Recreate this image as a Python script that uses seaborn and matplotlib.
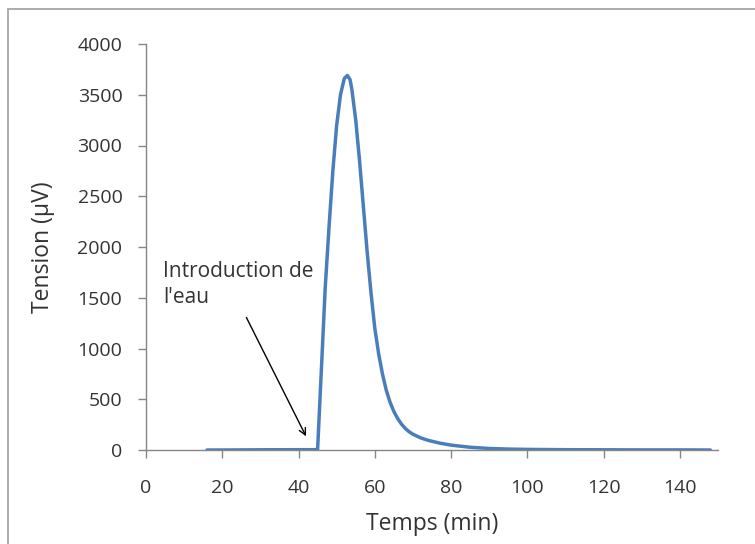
import matplotlib
matplotlib.use("Agg")
import pandas as pd
import seaborn as sns
import matplotlib.pyplot as plt
from matplotlib.patches import Rectangle

# values
temps = [16, 20, 30, 40, 44, 45, 46, 47, 48, 49, 50, 51, 52, 52.8, 53.5, 54,
         55, 56, 57, 58, 59, 60, 61, 62, 63, 64, 65, 66, 67, 68, 69, 70, 72,
         74, 77, 80, 85, 90, 95, 100, 110, 120, 130, 140, 148]
tension = [0, 0, 2, 3, 3, 5, 800, 1600, 2200, 2750, 3200, 3500, 3660, 3690,
           3650, 3550, 3250, 2850, 2400, 1950, 1550, 1200, 950, 750, 590, 470,
           380, 310, 255, 212, 180, 155, 120, 95, 68, 48, 27, 15, 9, 6, 3, 2,
           1, 1, 0]
x_ticks = [0, 20, 40, 60, 80, 100, 120, 140]
y_ticks = [0, 500, 1000, 1500, 2000, 2500, 3000, 3500, 4000]

GREY = "#868686"
BLUE = "#4a7ebb"
TEXT = "#333333"


def main():
    df = pd.DataFrame({"Temps": temps, "Tension": tension})

    sns.set_style("white")
    plt.rcParams["font.family"] = ["Open Sans", "DejaVu Sans"]

    fig = plt.figure(figsize=(7.55, 5.44), dpi=100)
    ax = fig.add_axes([146 / 755, 1 - 450 / 544, 572 / 755, 406 / 544])

    sns.lineplot(data=df, x="Temps", y="Tension", ax=ax, color=BLUE,
                 linewidth=2.5, estimator=None, sort=False)

    ax.set_xlim(0, 150)
    ax.set_ylim(0, 4000)
    ax.set_xticks(x_ticks)
    ax.set_yticks(y_ticks)
    ax.tick_params(axis="both", labelsize=14, labelcolor=TEXT,
                   length=6, width=1, color=GREY, direction="out",
                   bottom=True, left=True)
    ax.tick_params(axis="x", pad=15)
    ax.tick_params(axis="y", pad=11)
    for side in ["top", "right"]:
        ax.spines[side].set_visible(False)
    for side in ["left", "bottom"]:
        ax.spines[side].set_color(GREY)
        ax.spines[side].set_linewidth(1)

    ax.set_xlabel("Temps (min)", fontsize=16.5, color=TEXT, labelpad=11)
    ax.set_ylabel("Tension (µV)", fontsize=16.5, color=TEXT, labelpad=16)

    ax.annotate("", xy=(42.3, 110), xytext=(26, 1330),
                arrowprops=dict(arrowstyle="->", color="black", lw=1,
                                mutation_scale=12))
    ax.text(4.5, 1860, "Introduction de\nl'eau", fontsize=15,
            color=TEXT, va="top", ha="left", linespacing=1.3)

    # outer chart frame, only top and left edges visible
    fig.patches.append(Rectangle((8 / 755, -0.2), 1.2, 1.2 - 9 / 544,
                                 transform=fig.transFigure, fill=False,
                                 edgecolor="#a6a6a6", linewidth=1.3))

    fig.savefig("out.png", dpi=100)


if __name__ == '__main__':
    main()
